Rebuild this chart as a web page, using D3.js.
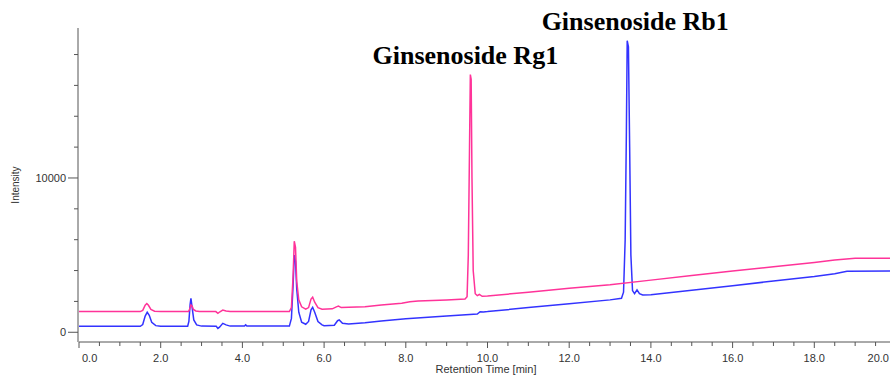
<!DOCTYPE html>
<html>
<head>
<meta charset="utf-8">
<script src="https://cdn.jsdelivr.net/npm/d3@7"></script>
<style>
	body { margin: 0; background: #fff; }
	svg { display: block; }
	.tick text, .axisTitle { font-family: "Liberation Sans", Arial, sans-serif; font-size: 11px; fill: #333; }
	.peakLabel { font-family: "Liberation Serif", "Times New Roman", serif; font-weight: bold; font-size: 26px; fill: #000; }
</style>
</head>
<body>
<svg id="chart" width="890" height="376"></svg>
<script>
	// pink trace (retention time [min], intensity)
	let pinkTime = [ 0.0, 1.50, 1.56, 1.62, 1.66, 1.70, 1.76, 1.85, 2.00, 2.68, 2.71, 2.74, 2.77, 2.80, 2.86, 2.95,
		3.35, 3.40, 3.45, 3.52, 3.60, 3.70, 5.15, 5.20, 5.24, 5.27, 5.30, 5.33, 5.38, 5.45, 5.55, 5.62, 5.68, 5.72,
		5.77, 5.85, 5.95, 6.20, 6.30, 6.35, 6.42, 6.60, 7.00, 7.40, 7.90, 8.10, 8.30, 9.00, 9.45, 9.50, 9.53, 9.56,
		9.58, 9.60, 9.62, 9.65, 9.70, 9.75, 9.80, 9.87, 10.0, 11.0, 12.0, 13.0, 14.0, 15.0, 16.0, 17.0, 18.0, 18.5,
		19.0, 20.0 ];
	let pinkValues = [ 1340, 1340, 1420, 1750, 1860, 1750, 1480, 1360, 1340, 1340, 1500, 1780, 1700, 1480, 1380, 1340,
		1340, 1230, 1330, 1440, 1380, 1340, 1340, 1600, 3600, 5900, 5500, 3300, 2100, 1650, 1500, 1600, 2150, 2270,
		1950, 1600, 1500, 1520, 1650, 1700, 1600, 1620, 1660, 1770, 1880, 1980, 2030, 2100, 2160, 2300, 5000, 12000,
		16700, 16400, 10000, 4000, 2500, 2380, 2450, 2330, 2350, 2600, 2850, 3080, 3380, 3680, 3970, 4250, 4520, 4680,
		4800, 4800 ];

	// blue trace
	let blueTime = [ 0.0, 1.50, 1.56, 1.62, 1.67, 1.72, 1.78, 1.88, 2.00, 2.66, 2.69, 2.72, 2.74, 2.77, 2.81, 2.88,
		3.00, 3.36, 3.40, 3.44, 3.52, 3.60, 3.70, 4.05, 4.08, 4.11, 5.15, 5.20, 5.24, 5.27, 5.30, 5.33, 5.38, 5.45,
		5.55, 5.62, 5.68, 5.72, 5.77, 5.85, 5.95, 6.00, 6.25, 6.33, 6.37, 6.45, 6.60, 7.00, 7.40, 8.00, 9.00, 9.75,
		9.82, 9.90, 10.0, 11.0, 12.0, 13.0, 13.28, 13.33, 13.37, 13.40, 13.42, 13.45, 13.48, 13.51, 13.55, 13.60,
		13.66, 13.72, 13.80, 14.0, 15.0, 16.0, 17.0, 18.0, 18.5, 18.8, 19.9, 20.0 ];
	let blueValues = [ 390, 390, 500, 1050, 1300, 1100, 650, 430, 390, 390, 700, 1800, 2200, 1600, 800, 480,
		400, 390, 250, 330, 580, 480, 400, 400, 480, 400, 400, 900, 3000, 5000, 4600, 2800, 1300, 650,
		520, 700, 1450, 1620, 1300, 700, 480, 420, 460, 750, 800, 580, 540, 620, 730, 880, 1050, 1180,
		1330, 1320, 1340, 1600, 1850, 2100, 2200, 2600, 6000, 13000, 18900, 18500, 12000, 5000, 2700, 2500,
		2750, 2500, 2420, 2440, 2720, 3020, 3320, 3610, 3800, 3960, 3980, 3900 ];

	let xTicks = [ 0, 2, 4, 6, 8, 10, 12, 14, 16, 18, 20 ];
	let yTicks = [ 0, 10000 ];

	let peakNames = [ 'Ginsenoside Rg1', 'Ginsenoside Rb1' ];
	let peakTimes = [ 9.58, 13.42 ];
	let peakHeights = [ 16700, 18900 ];

	let svg = d3.select( '#chart' ),
		x = d3.scaleLinear().domain( [ 0, 20 ] ).range( [ 79, 896 ] ),
		y = d3.scaleLinear().domain( [ -630, 19720 ] ).range( [ 342, 28 ] ),
		axisColor = '#555';

	// x axis
	let xAxis = svg.append( 'g' ).attr( 'class', 'x axis' ).attr( 'transform', 'translate(0,342)' );
	xAxis.append( 'line' ).attr( 'x1', 79 ).attr( 'x2', 890 ).attr( 'stroke', axisColor );
	xAxis.selectAll( 'line.minor' ).data( d3.range( 0, 20.01, 0.5 ) )
		.enter().append( 'line' ).attr( 'class', 'minor' )
		.attr( 'x1', d => x( d ) ).attr( 'x2', d => x( d ) )
		.attr( 'y1', 0 ).attr( 'y2', d => d % 2 === 0 ? 6 : 4 )
		.attr( 'stroke', axisColor );
	xAxis.selectAll( 'g.tick' ).data( xTicks )
		.enter().append( 'g' ).attr( 'class', 'tick' )
		.append( 'text' )
		.attr( 'x', ( d, i ) => i === 0 ? x( d ) + 3 : i === xTicks.length - 1 ? 889 : x( d ) )
		.attr( 'y', 20 )
		.attr( 'text-anchor', ( d, i ) => i === 0 ? 'start' : i === xTicks.length - 1 ? 'end' : 'middle' )
		.text( d => d3.format( '.1f' )( d ) );
	svg.append( 'text' ).attr( 'class', 'axisTitle' )
		.attr( 'x', 486 ).attr( 'y', 373 ).attr( 'text-anchor', 'middle' )
		.text( 'Retention Time [min]' );

	// y axis
	let yAxis = svg.append( 'g' ).attr( 'class', 'y axis' ).attr( 'transform', 'translate(78,0)' );
	yAxis.append( 'line' ).attr( 'y1', 28 ).attr( 'y2', 342 ).attr( 'stroke', axisColor );
	yAxis.selectAll( 'line.minor' ).data( d3.range( 0, 18001, 2000 ) )
		.enter().append( 'line' ).attr( 'class', 'minor' )
		.attr( 'y1', d => y( d ) ).attr( 'y2', d => y( d ) )
		.attr( 'x1', d => yTicks.includes( d ) ? -10 : -4 ).attr( 'x2', 0 )
		.attr( 'stroke', axisColor );
	yAxis.selectAll( 'g.tick' ).data( yTicks )
		.enter().append( 'g' ).attr( 'class', 'tick' )
		.append( 'text' )
		.attr( 'x', -12 ).attr( 'y', d => y( d ) ).attr( 'dy', '0.35em' )
		.attr( 'text-anchor', 'end' )
		.text( d => d );
	svg.append( 'text' ).attr( 'class', 'axisTitle' )
		.attr( 'transform', 'translate(19,185) rotate(-90)' )
		.attr( 'text-anchor', 'middle' ).style( 'font-size', '10px' )
		.text( 'Intensity' );

	// traces
	let line = d3.line().x( d => x( d[ 0 ] ) ).y( d => y( d[ 1 ] ) );
	svg.append( 'path' ).datum( d3.zip( blueTime, blueValues ) )
		.attr( 'd', line ).attr( 'fill', 'none' ).attr( 'stroke', '#3333ff' ).attr( 'stroke-width', 1.5 );
	svg.append( 'path' ).datum( d3.zip( pinkTime, pinkValues ) )
		.attr( 'd', line ).attr( 'fill', 'none' ).attr( 'stroke', '#ff3399' ).attr( 'stroke-width', 1.5 );

	// peak labels
	let labelShift = [ -5, 8 ];
	svg.selectAll( 'text.peakLabel' ).data( peakNames )
		.enter().append( 'text' ).attr( 'class', 'peakLabel' )
		.attr( 'x', ( d, i ) => x( peakTimes[ i ] ) + labelShift[ i ] )
		.attr( 'y', ( d, i ) => y( peakHeights[ i ] ) - 11 )
		.attr( 'text-anchor', 'middle' )
		.text( d => d );
</script>
</body>
</html>
